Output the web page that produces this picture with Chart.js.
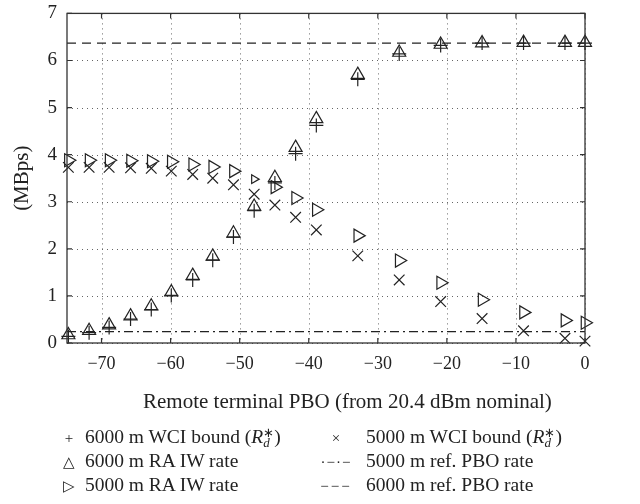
<!DOCTYPE html>
<html>
<head>
<meta charset="utf-8">
<script src="https://cdn.jsdelivr.net/npm/chart.js@4"></script>
<style>
  html, body { margin: 0; padding: 0; background: #fff; }
  #wrap { position: relative; width: 640px; height: 504px; }
  canvas { position: absolute; left: 0; top: 0; }
  .leg { position: absolute; font-family: "Liberation Serif", serif; font-size: 19.5px; color: #222; white-space: nowrap; line-height: 20px; }
  .sym { display: inline-block; width: 22px; text-align: center; font-size: 15px; }
  .wide { width: 36px; margin-right: 12px; }
  .rd { display: inline-block; vertical-align: -4px; font-size: 13px; line-height: 10px; text-align: left; }
  .rd span { display: block; }
  #xtitle { position: absolute; left: 143px; width: 400px; top: 389px; text-align: center; font-family: "Liberation Serif", serif; font-size: 21px; color: #222; white-space: nowrap; line-height: 24px; }
</style>
</head>
<body>
<div id="wrap">
  <canvas id="c" width="640" height="504"></canvas>
  <div id="xtitle">Remote terminal PBO (from 20.4 dBm nominal)</div>
  <div class="leg" style="left:58px; top:427px;"><span class="sym">+</span> 6000 m WCI bound (<i>R</i><span class="rd"><span>∗</span><span><i>d</i></span></span>)</div>
  <div class="leg" style="left:58px; top:451px;"><span class="sym">△</span> 6000 m RA IW rate</div>
  <div class="leg" style="left:58px; top:475px;"><span class="sym">▷</span> 5000 m RA IW rate</div>
  <div class="leg" style="left:318px; top:427px;"><span class="sym wide">×</span>5000 m WCI bound (<i>R</i><span class="rd"><span>∗</span><span><i>d</i></span></span>)</div>
  <div class="leg" style="left:318px; top:451px;"><span class="sym wide" style="letter-spacing:1px">·−·−</span>5000 m ref. PBO rate</div>
  <div class="leg" style="left:318px; top:475px;"><span class="sym wide" style="letter-spacing:2px">−−−</span>6000 m ref. PBO rate</div>
</div>
<script>
// PBO in dB (relative to 20.4 dBm nominal)
const pbo = [-74.8, -71.8, -68.9, -65.8, -62.8, -59.9, -56.8, -53.9, -50.9, -47.9,
             -44.9, -41.9, -38.9, -32.9, -26.9, -20.9, -14.9, -8.9, -2.9, 0];

// rates in MBps
const wci6000 = [0.14, 0.22, 0.33, 0.51, 0.71, 1.01, 1.34, 1.76, 2.25, 2.81,
                 3.40, 4.02, 4.62, 5.60, 6.14, 6.32, 6.37, 6.37, 6.37, 6.37];
const raIw6000 = [0.17, 0.26, 0.38, 0.57, 0.78, 1.08, 1.43, 1.84, 2.33, 2.90,
                  3.51, 4.15, 4.76, 5.70, 6.17, 6.34, 6.37, 6.38, 6.38, 6.38];
const raIw5000 = [3.88, 3.88, 3.88, 3.87, 3.86, 3.85, 3.79, 3.74, 3.65, 3.48,
                  3.31, 3.08, 2.83, 2.28, 1.75, 1.28, 0.92, 0.65, 0.48, 0.43];
const wci5000 = [3.73, 3.73, 3.73, 3.72, 3.71, 3.65, 3.58, 3.50, 3.36, 3.16,
                 2.93, 2.67, 2.40, 1.85, 1.34, 0.88, 0.52, 0.26, 0.10, 0.04];

const refPbo5000 = 0.24;
const refPbo6000 = 6.37;

const xRange = [-75, 0];
const xTicks = [-70, -60, -50, -40, -30, -20, -10, 0];
const yTicks = [0, 1, 2, 3, 4, 5, 6, 7];

const ink = "#222";
const pts = ys => pbo.map((x, i) => ({ x: x, y: ys[i] }));
const flat = v => xRange.map(x => ({ x: x, y: v }));

// small marker at -47.9 for the 5000 m RA IW series, as in the original
const ra5000Size = pbo.map((x, i) => i === 9 ? 5 : 7.5);

const frame = {
  id: "frame",
  beforeDatasetsDraw(chart) {
    const { ctx, chartArea: a, scales: { x, y } } = chart;
    ctx.save();
    ctx.strokeStyle = "#666";
    ctx.lineWidth = 1;
    ctx.setLineDash([1, 4]);
    xTicks.forEach(v => {
      const px = Math.round(x.getPixelForValue(v)) + 0.5;
      ctx.beginPath(); ctx.moveTo(px, a.top); ctx.lineTo(px, a.bottom); ctx.stroke();
    });
    yTicks.forEach(v => {
      const py = Math.round(y.getPixelForValue(v)) + 0.5;
      ctx.beginPath(); ctx.moveTo(a.left, py); ctx.lineTo(a.right, py); ctx.stroke();
    });
    ctx.restore();
  },
  afterDraw(chart) {
    const { ctx, chartArea: a, scales: { x, y } } = chart;
    ctx.save();
    ctx.strokeStyle = "#333";
    ctx.lineWidth = 1.3;
    ctx.strokeRect(a.left, a.top, a.right - a.left, a.bottom - a.top);
    ctx.lineWidth = 1.2;
    xTicks.forEach(v => {
      const px = x.getPixelForValue(v);
      ctx.beginPath();
      ctx.moveTo(px, a.bottom); ctx.lineTo(px, a.bottom - 5);
      ctx.moveTo(px, a.top); ctx.lineTo(px, a.top + 5);
      ctx.stroke();
    });
    yTicks.forEach(v => {
      const py = y.getPixelForValue(v);
      ctx.beginPath();
      ctx.moveTo(a.left, py); ctx.lineTo(a.left + 5, py);
      ctx.moveTo(a.right, py); ctx.lineTo(a.right - 5, py);
      ctx.stroke();
    });
    ctx.restore();
  }
};

const marker = (label, data, style, radius, rot) => ({
  label: label,
  data: pts(data),
  showLine: false,
  pointStyle: style,
  rotation: rot || 0,
  pointRadius: radius,
  pointBorderWidth: 1.2,
  borderColor: ink,
  backgroundColor: "rgba(0,0,0,0)",
  clip: false
});

new Chart(document.getElementById("c"), {
  type: "scatter",
  data: {
    datasets: [
      {
        label: "6000 m ref. PBO rate",
        data: flat(refPbo6000),
        showLine: true,
        pointRadius: 0,
        borderColor: ink,
        borderWidth: 1.2,
        borderDash: [9, 6]
      },
      {
        label: "5000 m ref. PBO rate",
        data: flat(refPbo5000),
        showLine: true,
        pointRadius: 0,
        borderColor: ink,
        borderWidth: 1.2,
        borderDash: [9, 4, 2, 4]
      },
      marker("6000 m WCI bound", wci6000, "cross", 7),
      marker("6000 m RA IW rate", raIw6000, "triangle", 7.5),
      marker("5000 m RA IW rate", raIw5000, "triangle", ra5000Size, 90),
      marker("5000 m WCI bound", wci5000, "crossRot", 7.5)
    ]
  },
  options: {
    responsive: false,
    animation: false,
    layout: { padding: { left: 0, right: 55, top: 4, bottom: 84 } },
    plugins: { legend: { display: false }, tooltip: { enabled: false } },
    scales: {
      x: {
        type: "linear",
        min: xRange[0],
        max: xRange[1],
        afterBuildTicks: s => { s.ticks = xTicks.map(v => ({ value: v })); },
        afterFit: s => { s.height = 77; },
        grid: { display: false },
        border: { display: false },
        ticks: {
          color: ink,
          padding: 2,
          font: { family: "Liberation Serif", size: 18 },
          callback: v => String(v).replace("-", "\u2212")
        },
        title: { display: false }
      },
      y: {
        min: 0,
        max: 7,
        afterBuildTicks: s => { s.ticks = yTicks.map(v => ({ value: v })); },
        afterFit: s => { s.width = 67; },
        grid: { display: false },
        border: { display: false },
        ticks: {
          color: ink,
          padding: 2,
          font: { family: "Liberation Serif", size: 19 }
        },
        title: {
          display: true,
          text: "(MBps)",
          color: ink,
          font: { family: "Liberation Serif", size: 21 },
          padding: { top: 10, bottom: 0 }
        }
      }
    }
  },
  plugins: [frame]
});
</script>
</body>
</html>
